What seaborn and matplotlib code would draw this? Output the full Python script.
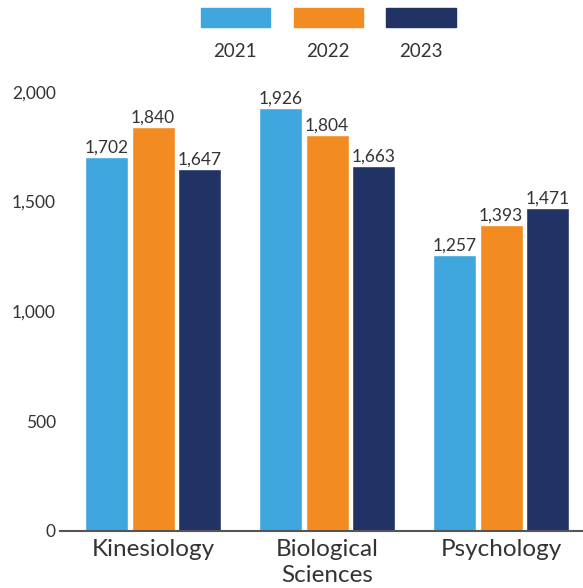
import pandas as pd
import seaborn as sns
import matplotlib.pyplot as plt
from matplotlib.offsetbox import VPacker

# --- data ---
majors = ["Kinesiology", "Biological\nSciences", "Psychology"]
years = ["2021", "2022", "2023"]
counts_2021 = [1702, 1926, 1257]
counts_2022 = [1840, 1804, 1393]
counts_2023 = [1647, 1663, 1471]
colors = ["#3FA7DE", "#F28C22", "#213264"]

df = pd.DataFrame({
    "major": majors * 3,
    "year": [y for y in years for _ in majors],
    "count": counts_2021 + counts_2022 + counts_2023,
})

sns.set_theme(style="white")
plt.rcParams["font.family"] = ["Lato", "DejaVu Sans"]

fig = plt.figure(figsize=(5.83, 5.88), dpi=100)
ax = fig.add_axes([0.103, 0.097, 0.897, 0.747])

sns.barplot(data=df, x="major", y="count", hue="year", order=majors,
            hue_order=years, palette=colors, width=0.8, gap=0.08,
            saturation=1, ax=ax, legend=False)

for cont in ax.containers:
    ax.bar_label(cont, labels=[f"{v:,.0f}" for v in cont.datavalues],
                 padding=1, fontsize=12.5, color="#333333", clip_on=False)

ax.set_ylim(0, 2000)
ax.set_yticks([0, 500, 1000, 1500, 2000])
ax.set_yticklabels([f"{v:,}" for v in [0, 500, 1000, 1500, 2000]])
ax.set_xlim(-0.535, 2.47)
ax.set_xlabel("")
ax.set_ylabel("")
ax.tick_params(axis="y", length=0, pad=3, labelsize=12.5, labelcolor="#333333")
ax.tick_params(axis="x", length=0, pad=6, labelsize=17.5, labelcolor="#333333")
for lbl in ax.get_xticklabels():
    lbl.set_linespacing(1.3)
for s in ["top", "right", "left"]:
    ax.spines[s].set_visible(False)
ax.spines["bottom"].set_color("#555555")
ax.spines["bottom"].set_linewidth(1.5)

# --- legend: swatch above label ---
handles = [plt.Rectangle((0, 0), 1, 1, color=c) for c in colors]
leg = fig.legend(handles, years, loc="upper center", bbox_to_anchor=(0.563, 0.987),
                 ncol=3, frameon=False, fontsize=13.5, handlelength=3.7,
                 handleheight=1.25, handletextpad=0.85, columnspacing=1.25,
                 borderpad=0, borderaxespad=0)
for t in leg.get_texts():
    t.set_color("#333333")
for col in leg._legend_handle_box.get_children():
    for entry in col.get_children():
        entry.__class__ = VPacker
        entry.align = "center"

fig.savefig("out.png", dpi=100)
